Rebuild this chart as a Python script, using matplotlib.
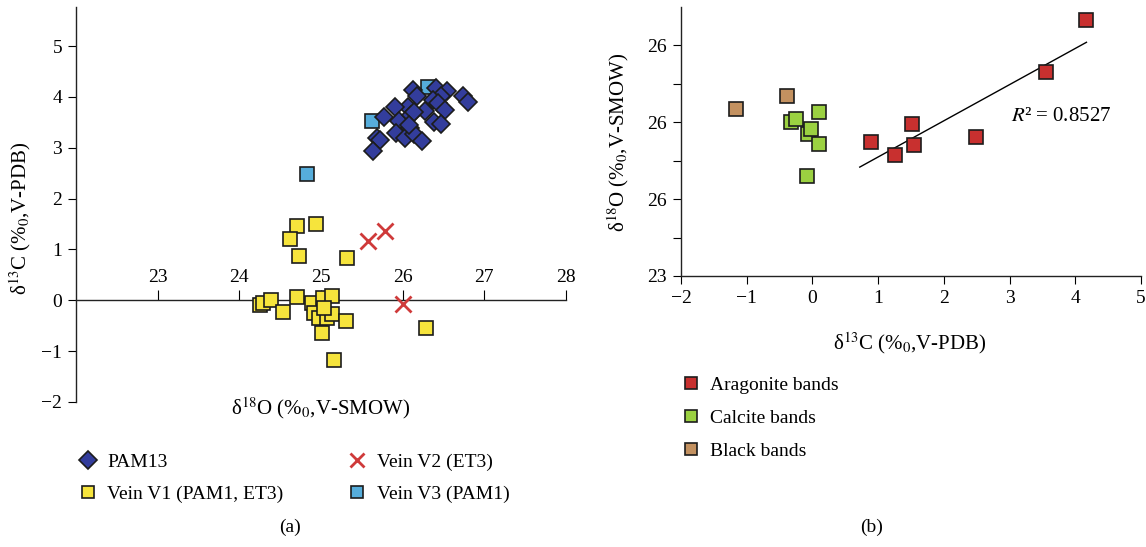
import numpy as np
import matplotlib.pyplot as plt
from matplotlib.lines import Line2D

plt.rcParams["font.family"] = ["Liberation Serif", "DejaVu Serif"]
plt.rcParams["mathtext.fontset"] = "stix"

# %% data, panel (a): d18O (x) vs d13C (y)
pam13_o = [26.13, 26.18, 26.41, 26.54, 26.74, 26.80, 26.47, 26.37, 26.43, 26.52,
           26.27, 26.06, 25.90, 25.77, 25.95, 26.10, 26.14, 26.38, 26.47, 25.92,
           26.09, 26.03, 26.14, 26.24, 25.69, 25.72, 25.64, 26.08]
pam13_c = [4.14, 4.02, 4.17, 4.12, 4.01, 3.91, 4.01, 3.94, 3.88, 3.74,
           3.73, 3.81, 3.80, 3.60, 3.53, 3.64, 3.71, 3.51, 3.47, 3.29,
           3.38, 3.20, 3.28, 3.13, 3.20, 3.15, 2.94, 3.45]

v1_o = [24.70, 24.94, 24.62, 24.73, 25.32, 24.25, 24.29, 24.39, 24.54, 24.71,
        24.89, 25.02, 25.13, 24.92, 24.97, 25.07, 25.13, 25.04, 25.30, 25.01,
        25.16, 26.29]
v1_c = [1.46, 1.50, 1.21, 0.88, 0.83, -0.10, -0.06, 0.00, -0.23, 0.07,
        -0.06, 0.05, 0.08, -0.25, -0.34, -0.35, -0.26, -0.15, -0.41, -0.64,
        -1.17, -0.54]

v2_o = [25.58, 25.78, 26.00]
v2_c = [1.17, 1.36, -0.07]

v3_o = [26.31, 25.63, 24.83]
v3_c = [4.20, 3.53, 2.49]

a_xticks = [23, 24, 25, 26, 27, 28]
a_yticks = [-2, -1, 0, 1, 2, 3, 4, 5]

# %% data, panel (b): d13C (x) vs d18O (y)
arag_c = [4.17, 3.55, 1.52, 0.89, 1.25, 1.54, 2.49]
arag_o = [26.33, 25.65, 24.98, 24.75, 24.58, 24.70, 24.81]

calc_c = [-0.33, -0.07, 0.10, -0.25, -0.02, 0.10, -0.09]
calc_o = [25.00, 24.85, 25.14, 25.04, 24.91, 24.72, 24.30]

black_c = [-1.16, -0.39]
black_o = [25.17, 25.34]

trend_x = [0.72, 4.17]
r2_label = "$R$² = 0.8527"

b_xticks = [-2, -1, 0, 1, 2, 3, 4, 5]
b_yticks = [23, 23.5, 24, 24.5, 25, 25.5, 26]
b_yticklabels = ["23", "", "26", "", "26", "", "26"]

lab_o = "δ$^{18}$O (%$_0$,V-SMOW)"
lab_c = "δ$^{13}$C (%$_0$,V-PDB)"

# %%
fig = plt.figure(figsize=(11.46, 5.47), dpi=100)
W, H = 1146, 547

def px_axes(left, top, right, bottom):
    return fig.add_axes([left / W, 1 - bottom / H, (right - left) / W, (bottom - top) / H])

edge = "#1c1c1c"
tick_fs = 14
lab_fs = 15

# ---- panel (a)
ax = px_axes(76, 7, 566, 402)
ax.plot(v1_o, v1_c, "s", ms=9.5, mfc="#f6e43c", mec=edge, mew=1.2, ls="none", zorder=3)
ax.plot(v2_o, v2_c, "x", ms=11, mec="#cf3a3a", mew=2.0, ls="none", zorder=4)
ax.plot(v3_o, v3_c, "s", ms=9.5, mfc="#56addb", mec=edge, mew=1.2, ls="none", zorder=4)
ax.plot(pam13_o, pam13_c, "D", ms=9.5, mfc="#333d9c", mec=edge, mew=1.2, ls="none", zorder=5)

ax.set_xlim(22, 28)
ax.set_ylim(-2, 5.77)
ax.spines["right"].set_visible(False)
ax.spines["bottom"].set_visible(False)
ax.spines["top"].set_position(("data", 0))
ax.xaxis.set_ticks_position("top")
ax.set_xticks(a_xticks)
ax.set_yticks(a_yticks)
ax.tick_params(axis="x", direction="out", length=7, pad=3, labelsize=tick_fs)
ax.tick_params(axis="y", direction="out", length=6, pad=4, labelsize=tick_fs)
for s in ax.spines.values():
    s.set_linewidth(1.0)
    s.set_color("#222222")
ax.patch.set_alpha(0)

fig.text(321 / W, 1 - 408 / H, lab_o, ha="center", va="center", fontsize=lab_fs)
fig.text(20 / W, 1 - 218 / H, lab_c, ha="center", va="center", rotation=90, fontsize=lab_fs)

# ---- panel (b)
bx = px_axes(681, 7, 1141, 276)
bx.plot(black_c, black_o, "s", ms=10, mfc="#c39160", mec=edge, mew=1.2, ls="none", zorder=3)
bx.plot(calc_c, calc_o, "s", ms=10, mfc="#9bd141", mec=edge, mew=1.2, ls="none", zorder=3)
bx.plot(arag_c, arag_o, "s", ms=10, mfc="#c8302f", mec=edge, mew=1.2, ls="none", zorder=3)

k, b0 = np.polyfit(arag_c, arag_o, 1)
tx = np.array(trend_x)
bx.plot(tx, k * tx + b0, color="black", lw=1.0, zorder=2)
bx.text(3.02, 25.08, r2_label, ha="left", va="center", fontsize=15)

bx.set_xlim(-2, 5)
bx.set_ylim(23, 26.5)
bx.set_xticks(b_xticks)
bx.set_yticks(b_yticks)
bx.set_yticklabels(b_yticklabels)
bx.spines["right"].set_visible(False)
bx.spines["top"].set_visible(False)
bx.tick_params(direction="out", length=6, pad=4, labelsize=tick_fs)
for s in bx.spines.values():
    s.set_linewidth(1.0)
    s.set_color("#222222")

fig.text(910 / W, 1 - 343 / H, lab_c, ha="center", va="center", fontsize=lab_fs)
fig.text(618 / W, 1 - 142 / H, lab_o, ha="center", va="center", rotation=90, fontsize=lab_fs)

# ---- legends
h_a = [
    Line2D([], [], marker="D", ms=9, mfc="#333d9c", mec=edge, mew=1.2, ls="none"),
    Line2D([], [], marker="s", ms=8, mfc="#f6e43c", mec=edge, mew=1.2, ls="none"),
    Line2D([], [], marker="x", ms=10, mec="#cf3a3a", mew=2.0, ls="none"),
    Line2D([], [], marker="s", ms=8, mfc="#56addb", mec=edge, mew=1.2, ls="none"),
]
fig.legend(h_a, ["PAM13", "Vein V1 (PAM1, ET3)", "Vein V2 (ET3)", "Vein V3 (PAM1)"],
           ncol=2, loc="upper left", bbox_to_anchor=(78 / W, 1 - 453 / H), frameon=False,
           fontsize=14, handlelength=1.0, handletextpad=0.5, columnspacing=3.3,
           labelspacing=0.75, borderpad=0, borderaxespad=0)

h_b = [
    Line2D([], [], marker="s", ms=9, mfc="#c8302f", mec=edge, mew=1.2, ls="none"),
    Line2D([], [], marker="s", ms=9, mfc="#9bd141", mec=edge, mew=1.2, ls="none"),
    Line2D([], [], marker="s", ms=9, mfc="#c39160", mec=edge, mew=1.2, ls="none"),
]
fig.legend(h_b, ["Aragonite bands", "Calcite bands", "Black bands"],
           loc="upper left", bbox_to_anchor=(681 / W, 1 - 376 / H), frameon=False,
           fontsize=14, handlelength=1.0, handletextpad=0.5, labelspacing=0.8,
           borderpad=0, borderaxespad=0)

fig.text(290 / W, 1 - 527 / H, "(a)", ha="center", va="center", fontsize=14)
fig.text(872 / W, 1 - 527 / H, "(b)", ha="center", va="center", fontsize=14)

fig.savefig("out.png", dpi=100)
